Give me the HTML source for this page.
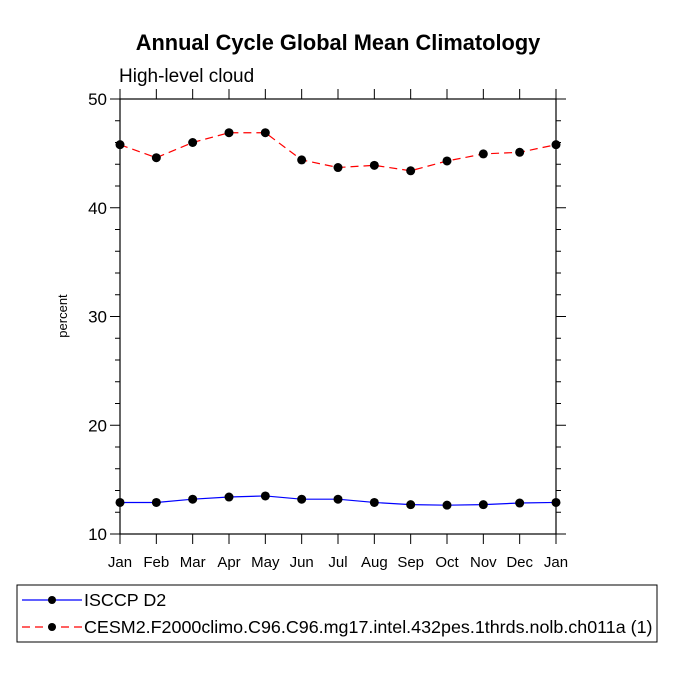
<!DOCTYPE html>
<html><head><meta charset="utf-8"><style>
body{margin:0;background:#fff;}
svg text{font-family:"Liberation Sans",sans-serif;fill:#000;}
</style></head><body>
<svg id="chart" width="675" height="675" viewBox="0 0 675 675">
<text x="338" y="50" text-anchor="middle" font-size="21.8" font-weight="bold">Annual Cycle Global Mean Climatology</text>
<text x="119" y="82" font-size="19">High-level cloud</text>
<text x="67" y="316" font-size="13" text-anchor="middle" transform="rotate(-90 67 316)">percent</text>
<g id="axes"></g>
<g id="series"></g>
<g>
<rect x="17" y="585" width="640" height="57" fill="none" stroke="#000" stroke-width="1"/>
<line x1="22" y1="600" x2="82" y2="600" stroke="#0000ff" stroke-width="1.2"/>
<circle cx="52" cy="600" r="4" fill="#000"/>
<text x="84" y="606" font-size="17.9">ISCCP D2</text>
<line x1="22" y1="627" x2="82" y2="627" stroke="#ff0000" stroke-width="1.2" stroke-dasharray="8,5"/>
<circle cx="52" cy="627" r="4" fill="#000"/>
<text x="84" y="633" font-size="17.9">CESM2.F2000climo.C96.C96.mg17.intel.432pes.1thrds.nolb.ch011a (1)</text>
</g>
</svg>
<script>
const months = ["Jan","Feb","Mar","Apr","May","Jun","Jul","Aug","Sep","Oct","Nov","Dec","Jan"];
const isccp = [12.9,12.9,13.2,13.4,13.5,13.2,13.2,12.9,12.7,12.65,12.7,12.85,12.9];
const cesm = [45.8,44.6,46.0,46.9,46.9,44.4,43.7,43.9,43.4,44.3,44.95,45.1,45.8];
const yTicks = [10,20,30,40,50];
const L=120,R=556,T=99,B=534,ymin=10,ymax=50;
const NS="http://www.w3.org/2000/svg";
function xs(i){return L+(R-L)*i/(months.length-1);}
function ys(v){return B-(v-ymin)/(ymax-ymin)*(B-T);}
function mk(tag,attrs,parent){const e=document.createElementNS(NS,tag);for(const k in attrs)e.setAttribute(k,attrs[k]);parent.appendChild(e);return e;}
const ax=document.getElementById('axes');
const frame=mk('rect',{x:L,y:T,width:R-L,height:B-T,fill:'none',stroke:'#000','stroke-width':1.2},ax);


months.forEach((m,i)=>{
  const x=xs(i);
  mk('line',{x1:x,y1:B,x2:x,y2:B+10,stroke:'#000'},ax);
  mk('line',{x1:x,y1:T,x2:x,y2:T-10,stroke:'#000'},ax);
  const t=mk('text',{x:x,y:B+33,'text-anchor':'middle','font-size':15},ax);
  t.textContent=m;
  
  
});
for(let v=ymin;v<=ymax;v+=2){
  const y=ys(v),maj=(v%10===0),len=maj?10:5;
  mk('line',{x1:L,y1:y,x2:L-len,y2:y,stroke:'#000'},ax);
  mk('line',{x1:R,y1:y,x2:R+len,y2:y,stroke:'#000'},ax);
}
yTicks.forEach(v=>{
  const t=mk('text',{x:L-13,y:ys(v)+6,'text-anchor':'end','font-size':17},ax);
  t.textContent=v;
  
  
});
const sg=document.getElementById('series');
function draw(vals,color,dash,name){
  const pl=mk('polyline',{points:vals.map((v,i)=>xs(i)+','+ys(v)).join(' '),fill:'none',stroke:color,'stroke-width':1.2},sg);
  if(dash)pl.setAttribute('stroke-dasharray',dash);
  
  
  vals.forEach((v,i)=>{
    const c=mk('circle',{cx:xs(i),cy:ys(v),r:4.5,fill:'#000'},sg);
    
    
  });
}
draw(isccp,'#0000ff',null,'isccp');
draw(cesm,'#ff0000','8,5','cesm2');
</script>
</body></html>
